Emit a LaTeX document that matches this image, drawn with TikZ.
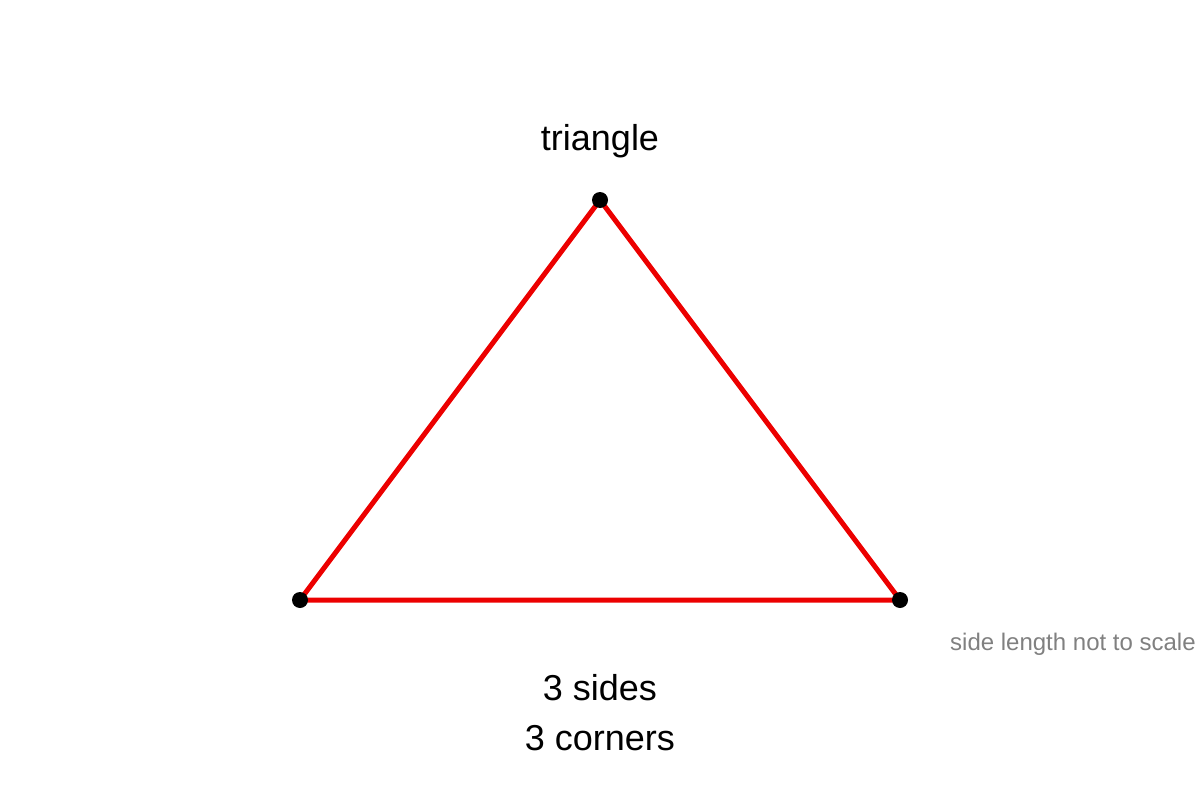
\documentclass[tikz,border=0pt]{standalone}
\usepackage{fontspec}
\setmainfont{Liberation Sans}
\usetikzlibrary{positioning}
\definecolor{sidered}{RGB}{236,0,0}
\definecolor{notegray}{RGB}{128,128,128}

\begin{document}
\begin{tikzpicture}[
        x=1pt, y=-1pt,
        side/.style={draw=sidered, line width=5pt, line join=round},
        corner/.style={circle, fill=black, inner sep=0pt, minimum size=16pt},
        bigtext/.style={font=\fontsize{36}{43}\selectfont, anchor=base, inner sep=0pt},
        smalltext/.style={font=\fontsize{24}{29}\selectfont, text=notegray, anchor=base west, inner sep=0pt}
    ]
    \useasboundingbox (0,0) rectangle (1200,800);
    \coordinate (top) at (600,200);
    \coordinate (left) at (300,600);
    \coordinate (right) at (900,600);
    \draw[side] (top) -- (right) -- (left) -- cycle;
    \node[corner] (c1) at (top) {};
    \node[corner] (c2) at (left) {};
    \node[corner] (c3) at (right) {};
    \node[bigtext] (title) at (600,150) {triangle};
    \node[bigtext] (sides) at (600,700) {3 sides};
    \node[bigtext] (corners) at (600,750) {3 corners};
    \node[smalltext] (note) at (950,650) {side length not to scale};
\end{tikzpicture}
\end{document}
